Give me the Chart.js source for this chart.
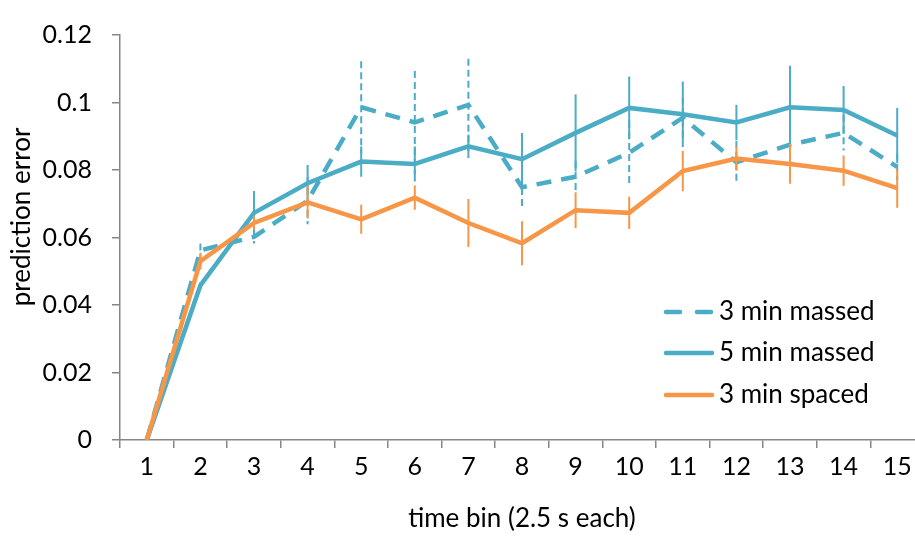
<!DOCTYPE html>
<html>
<head>
<meta charset="utf-8">
<script src="https://cdn.jsdelivr.net/npm/chart.js@4.4.1/dist/chart.umd.min.js"></script>
<style>
  html, body { margin: 0; padding: 0; background: #fff; overflow: hidden; }
  #wrap { position: relative; width: 925px; height: 537px; }
</style>
</head>
<body>
<div id="wrap"><canvas id="errChart"></canvas></div>
<script>
// time bins and mean prediction error per condition
const bins = ['1','2','3','4','5','6','7','8','9','10','11','12','13','14','15'];
const yTicks = [0, 0.02, 0.04, 0.06, 0.08, 0.1, 0.12];

const massed3 = [0, 0.0562, 0.0602, 0.0709, 0.0986, 0.0941, 0.0993, 0.0749, 0.0780, 0.0851, 0.0955, 0.0823, 0.0875, 0.0910, 0.0809];
const massed3Err = [0, 0.002, 0.002, 0.007, 0.0136, 0.0152, 0.0137, 0.0063, 0.0047, 0.0094, 0.006, 0.0064, 0.005, 0.0052, 0.004];

const massed5 = [0, 0.0458, 0.0673, 0.0761, 0.0825, 0.0818, 0.0870, 0.0832, 0.0910, 0.0984, 0.0965, 0.0941, 0.0986, 0.0978, 0.0902];
const massed5Err = [0, 0.001, 0.0065, 0.0054, 0.0045, 0.0052, 0.0035, 0.0078, 0.0114, 0.0093, 0.0097, 0.0052, 0.0123, 0.0071, 0.0082];

const spaced3 = [0, 0.0530, 0.0643, 0.0704, 0.0654, 0.0718, 0.0643, 0.0583, 0.0681, 0.0673, 0.0797, 0.0834, 0.0818, 0.0798, 0.0746];
const spaced3Err = [0, 0.0025, 0.002, 0.0048, 0.0043, 0.0036, 0.0071, 0.0065, 0.0053, 0.0048, 0.006, 0.0036, 0.0059, 0.0045, 0.0058];

const BLUE = '#4BACC6';
const ORANGE = '#F79646';
const AXIS = '#868686';
const FONT = 'Lato';

// vertical error bars, drawn right after each series line
const errorBars = {
  id: 'errorBars',
  afterDatasetDraw(chart, args) {
    const ds = chart.data.datasets[args.index];
    if (!ds.errors) return;
    const ys = chart.scales.y;
    const ctx = chart.ctx;
    ctx.save();
    ctx.strokeStyle = ds.borderColor;
    ctx.lineWidth = 2;
    ctx.setLineDash(ds.errorDash || []);
    args.meta.data.forEach((pt, i) => {
      const e = ds.errors[i];
      if (!e) return;
      const v = ds.data[i];
      ctx.beginPath();
      ctx.moveTo(pt.x, ys.getPixelForValue(v + e));
      ctx.lineTo(pt.x, ys.getPixelForValue(v - e));
      ctx.stroke();
    });
    ctx.restore();
  }
};

// legend inside the plot, lower right
const insideLegend = {
  id: 'insideLegend',
  afterDraw(chart) {
    const ctx = chart.ctx;
    const rows = [312, 353, 395];
    const order = [2, 1, 0];
    ctx.save();
    ctx.font = '26px ' + FONT;
    ctx.textBaseline = 'middle';
    order.forEach((di, r) => {
      const ds = chart.data.datasets[di];
      ctx.strokeStyle = ds.borderColor;
      ctx.lineWidth = 4.5;
      ctx.lineCap = 'round';
      ctx.setLineDash(ds.borderDash && ds.borderDash.length ? [14, 17] : []);
      ctx.beginPath();
      ctx.moveTo(666, rows[r]);
      ctx.lineTo(712, rows[r]);
      ctx.stroke();
      ctx.setLineDash([]);
      ctx.fillStyle = '#000';
      ctx.fillText(ds.label, 719, rows[r]);
    });
    ctx.restore();
  }
};

// axis titles
const axisTitles = {
  id: 'axisTitles',
  afterDraw(chart) {
    const ctx = chart.ctx;
    const area = chart.chartArea;
    ctx.save();
    ctx.fillStyle = '#000';
    ctx.font = '26px ' + FONT;
    ctx.textAlign = 'center';
    ctx.textBaseline = 'middle';
    ctx.fillText('time bin (2.5 s each)', (area.left + area.right) / 2, 519);
    ctx.translate(22, 217);
    ctx.rotate(-Math.PI / 2);
    ctx.fillText('prediction error', 0, 0);
    ctx.restore();
  }
};

new Chart(document.getElementById('errChart'), {
  type: 'line',
  data: {
    labels: bins,
    datasets: [
      {
        label: '3 min spaced',
        data: spaced3,
        errors: spaced3Err,
        borderColor: ORANGE,
        borderWidth: 4.5,
        order: 0
      },
      {
        label: '5 min massed',
        data: massed5,
        errors: massed5Err,
        borderColor: BLUE,
        borderWidth: 4.5,
        order: 1
      },
      {
        label: '3 min massed',
        data: massed3,
        errors: massed3Err,
        errorDash: [7, 4],
        borderColor: BLUE,
        borderWidth: 4.5,
        borderDash: [15, 10],
        order: 2
      }
    ]
  },
  options: {
    responsive: true,
    maintainAspectRatio: false,
    animation: false,
    devicePixelRatio: 1,
    elements: { point: { radius: 0, hoverRadius: 0 }, line: { tension: 0, fill: false } },
    layout: { padding: { top: 17, right: 1, left: 0, bottom: 0 } },
    plugins: { legend: { display: false }, tooltip: { enabled: false } },
    scales: {
      x: {
        offset: true,
        afterFit: s => { s.height = 97; },
        border: { color: AXIS, width: 1.5 },
        grid: { offset: true, drawOnChartArea: false, drawTicks: true, tickLength: 8, color: AXIS, lineWidth: 1.5 },
        ticks: { color: '#000', padding: 4, maxRotation: 0, autoSkip: false, font: { family: FONT, size: 25 } }
      },
      y: {
        min: 0,
        max: 0.12,
        afterFit: s => { s.width = 120; },
        afterBuildTicks: s => { s.ticks = yTicks.map(v => ({ value: v })); },
        border: { color: AXIS, width: 1.5 },
        grid: { drawOnChartArea: false, drawTicks: true, tickLength: 8, color: AXIS, lineWidth: 1.5 },
        ticks: {
          color: '#000',
          padding: 20,
          font: { family: FONT, size: 25 },
          callback: v => String(+v.toFixed(2))
        }
      }
    }
  },
  plugins: [errorBars, insideLegend, axisTitles]
});
</script>
</body>
</html>
